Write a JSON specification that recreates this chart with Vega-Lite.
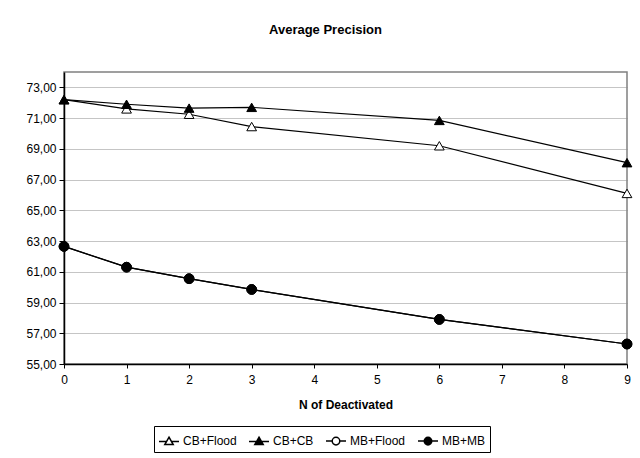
{
  "$schema": "https://vega.github.io/schema/vega-lite/v6.json",
  "width": 563,
  "height": 292,
  "autosize": {"type": "none"},
  "padding": {"left": 64, "top": 72, "right": 13, "bottom": 94},
  "background": "white",
  "title": {
    "text": "Average Precision",
    "font": "Liberation Sans",
    "fontSize": 13,
    "fontWeight": "bold",
    "color": "black",
    "anchor": "middle",
    "dx": -20,
    "offset": 35
  },
  "config": {
    "view": {"stroke": "#808080", "strokeWidth": 1.5},
    "font": "Liberation Sans"
  },
  "data": {
    "values": [
      {"n": 0, "value": 72.2, "series": "CB+Flood"},
      {"n": 1, "value": 71.6, "series": "CB+Flood"},
      {"n": 2, "value": 71.25, "series": "CB+Flood"},
      {"n": 3, "value": 70.45, "series": "CB+Flood"},
      {"n": 6, "value": 69.2, "series": "CB+Flood"},
      {"n": 9, "value": 66.1, "series": "CB+Flood"},
      {"n": 0, "value": 72.2, "series": "CB+CB"},
      {"n": 1, "value": 71.9, "series": "CB+CB"},
      {"n": 2, "value": 71.65, "series": "CB+CB"},
      {"n": 3, "value": 71.7, "series": "CB+CB"},
      {"n": 6, "value": 70.85, "series": "CB+CB"},
      {"n": 9, "value": 68.1, "series": "CB+CB"},
      {"n": 0, "value": 62.65, "series": "MB+Flood"},
      {"n": 1, "value": 61.3, "series": "MB+Flood"},
      {"n": 2, "value": 60.55, "series": "MB+Flood"},
      {"n": 3, "value": 59.85, "series": "MB+Flood"},
      {"n": 6, "value": 57.9, "series": "MB+Flood"},
      {"n": 9, "value": 56.3, "series": "MB+Flood"},
      {"n": 0, "value": 62.65, "series": "MB+MB"},
      {"n": 1, "value": 61.3, "series": "MB+MB"},
      {"n": 2, "value": 60.55, "series": "MB+MB"},
      {"n": 3, "value": 59.85, "series": "MB+MB"},
      {"n": 6, "value": 57.9, "series": "MB+MB"},
      {"n": 9, "value": 56.3, "series": "MB+MB"}
    ]
  },
  "encoding": {
    "x": {
      "field": "n",
      "type": "quantitative",
      "scale": {"domain": [0, 9], "nice": false},
      "axis": {
        "title": "N of Deactivated",
        "titleFont": "Liberation Sans",
        "titleFontSize": 12,
        "titleFontWeight": "bold",
        "titleColor": "black",
        "titlePadding": 14,
        "values": [0, 1, 2, 3, 4, 5, 6, 7, 8, 9],
        "format": "d",
        "grid": false,
        "domainColor": "black",
        "domainWidth": 1.5,
        "tickColor": "black",
        "tickSize": 4,
        "labelFont": "Liberation Sans",
        "labelFontSize": 12,
        "labelColor": "black",
        "labelPadding": 6,
        "labelFlush": false
      }
    },
    "y": {
      "field": "value",
      "type": "quantitative",
      "scale": {"domain": [55, 74], "nice": false, "zero": false},
      "axis": {
        "title": null,
        "values": [55, 57, 59, 61, 63, 65, 67, 69, 71, 73],
        "labelExpr": "replace(format(datum.value, '.2f'), '.', ',')",
        "grid": true,
        "gridColor": "#8a8a8a",
        "gridDash": [1, 1],
        "gridWidth": 1,
        "domainColor": "black",
        "domainWidth": 1.5,
        "tickColor": "black",
        "tickSize": 5,
        "labelFont": "Liberation Sans",
        "labelFontSize": 12,
        "labelColor": "black",
        "labelPadding": 3
      }
    }
  },
  "layer": [
    {
      "mark": {"type": "line", "color": "black", "strokeWidth": 1.2},
      "encoding": {"detail": {"field": "series"}}
    },
    {
      "mark": {"type": "point", "filled": false, "stroke": "black", "strokeWidth": 1, "opacity": 1},
      "encoding": {
        "shape": {
          "field": "series",
          "type": "nominal",
          "scale": {
            "domain": ["CB+Flood", "CB+CB", "MB+Flood", "MB+MB"],
            "range": ["triangle-up", "triangle-up", "circle", "circle"]
          },
          "legend": null
        },
        "fill": {
          "field": "series",
          "type": "nominal",
          "scale": {
            "domain": ["CB+Flood", "CB+CB", "MB+Flood", "MB+MB"],
            "range": ["white", "black", "white", "black"]
          },
          "legend": null
        },
        "size": {"value": 95}
      }
    },
    {
      "mark": {"type": "point", "filled": false, "stroke": "black", "strokeWidth": 1, "opacity": 0},
      "encoding": {
        "shape": {
          "field": "series",
          "type": "nominal",
          "scale": {
            "domain": ["CB+Flood", "CB+CB", "MB+Flood", "MB+MB"],
            "range": [
              "M-1,0H-0.24M0.24,0H1M0,-0.42L0.42,0.32L-0.42,0.32Z",
              "M-1,0H-0.24M0.24,0H1M0,-0.42L0.42,0.32L-0.42,0.32ZM0,-0.31L0.31,0.24L-0.31,0.24ZM0,-0.2L0.2,0.16L-0.2,0.16ZM0,-0.1L0.1,0.08L-0.1,0.08Z",
              "M-1,0H-0.38M0.38,0H1M-0.38,0A0.38,0.38,0,1,0,0.38,0A0.38,0.38,0,1,0,-0.38,0Z",
              "M-1,0H-0.38M0.38,0H1M-0.38,0A0.38,0.38,0,1,0,0.38,0A0.38,0.38,0,1,0,-0.38,0ZM-0.27,0A0.27,0.27,0,1,0,0.27,0A0.27,0.27,0,1,0,-0.27,0ZM-0.16,0A0.16,0.16,0,1,0,0.16,0A0.16,0.16,0,1,0,-0.16,0ZM-0.06,0A0.06,0.06,0,1,0,0.06,0A0.06,0.06,0,1,0,-0.06,0Z"
            ]
          },
          "legend": {
            "title": null,
            "orient": "none",
            "direction": "horizontal",
            "legendX": 90,
            "legendY": 354,
            "strokeColor": "black",
            "fillColor": "white",
            "padding": 4,
            "cornerRadius": 0,
            "symbolSize": 400,
            "labelFont": "Liberation Sans",
            "labelFontSize": 12,
            "labelColor": "black",
            "labelOffset": 3,
            "columnPadding": 9,
            "encode": {
              "symbols": {
                "update": {
                  "stroke": {"value": "black"},
                  "strokeWidth": {"value": 1.3},
                  "strokeOpacity": {"value": 1},
                  "opacity": {"value": 1},
                  "size": {"value": 400}
                }
              }
            }
          }
        },
        "size": {"value": 95}
      }
    }
  ],
  "resolve": {"scale": {"shape": "independent", "fill": "independent"}}
}
